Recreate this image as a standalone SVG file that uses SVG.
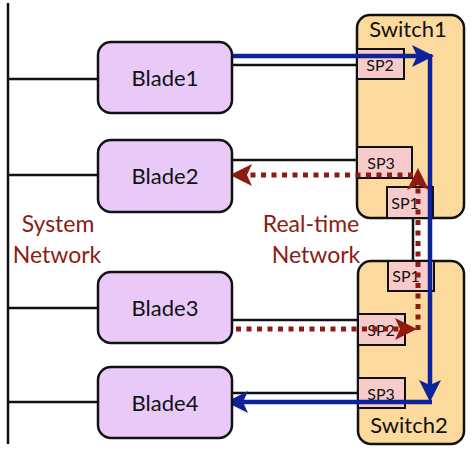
<svg xmlns="http://www.w3.org/2000/svg" width="474" height="450" viewBox="0 0 474 450">
<style>
.blade{fill:#E8C9F7;stroke:#111;stroke-width:2.5}
.switch{fill:#FCD99C;stroke:#111;stroke-width:2.5}
.port{fill:#F8CBCB;stroke:#111;stroke-width:2}
.wire{stroke:#111;stroke-width:2.5;fill:none}
.blue{stroke:#0D2399;stroke-width:4.5;fill:none}
.red{stroke:#8E1B12;stroke-width:5;fill:none;stroke-dasharray:5 5.5}
.t{font-family:Lato,"Liberation Sans",sans-serif;fill:#111;text-anchor:middle}
.big{font-size:22px}
.sp{font-size:16px}
.lbl{font-family:Lato,"Liberation Sans",sans-serif;font-size:23px;fill:#8E1B12;text-anchor:middle}
</style>
<defs>
<marker id="ab" markerUnits="userSpaceOnUse" markerWidth="24" markerHeight="24" refX="12" refY="11" orient="auto"><path d="M0,0 L22,11 L0,22 L5,11 z" fill="#0D2399"/></marker>
<marker id="ar" markerUnits="userSpaceOnUse" markerWidth="24" markerHeight="24" refX="12" refY="11" orient="auto"><path d="M0,0 L22,11 L0,22 L5,11 z" fill="#8E1B12"/></marker>
</defs>
<rect width="474" height="450" fill="#fff"/>
<g id="system-bus">
<line class="wire" x1="8" y1="3" x2="8" y2="444" stroke-width="3"/>
<line class="wire" x1="8" y1="79" x2="98" y2="79"/>
<line class="wire" x1="8" y1="175" x2="98" y2="175"/>
<line class="wire" x1="8" y1="308" x2="98" y2="308"/>
<line class="wire" x1="8" y1="402" x2="98" y2="402"/>
</g>
<g id="switch1">
<rect class="switch" x="357" y="15" width="107" height="203" rx="13"/>
<text class="t big" x="408" y="37">Switch1</text>
<rect class="port" x="357" y="49" width="47" height="30"/>
<text class="t sp" x="380" y="71">SP2</text>
<rect class="port" x="357" y="147" width="55" height="31"/>
<text class="t sp" x="381" y="169">SP3</text>
<rect class="port" x="387" y="187" width="46" height="31"/>
<text class="t sp" x="405" y="209">SP1</text>
</g>
<g id="switch2">
<rect class="switch" x="358" y="261" width="106" height="183" rx="13"/>
<text class="t big" x="409" y="433">Switch2</text>
<rect class="port" x="388" y="261" width="46" height="30"/>
<text class="t sp" x="406" y="282">SP1</text>
<rect class="port" x="358" y="314" width="47" height="31"/>
<text class="t sp" x="381" y="336">SP2</text>
<rect class="port" x="358" y="378" width="47" height="30"/>
<text class="t sp" x="381" y="400">SP3</text>
</g>
<g id="connectors">
<line class="wire" x1="232" y1="65" x2="357" y2="65"/>
<line class="wire" x1="232" y1="160" x2="357" y2="160"/>
<line class="wire" x1="232" y1="320" x2="358" y2="320"/>
<line class="wire" x1="232" y1="393" x2="358" y2="393"/>
<line class="wire" x1="413" y1="218" x2="413" y2="261"/>
<line class="blue" x1="232" y1="56" x2="424" y2="56" marker-end="url(#ab)"/>
<line class="blue" x1="430" y1="54" x2="430" y2="392" marker-end="url(#ab)"/>
<line class="blue" x1="432" y1="402" x2="236" y2="402" marker-end="url(#ab)"/>
<line class="red" x1="236" y1="329" x2="407" y2="329" marker-end="url(#ar)"/>
<line class="red" x1="418" y1="330" x2="418" y2="178" marker-end="url(#ar)"/>
<line class="red" x1="413" y1="175" x2="240" y2="175" marker-end="url(#ar)"/>
</g>
<g id="blade1">
<rect class="blade" x="98" y="42" width="134" height="71" rx="13"/>
<text class="t big" x="165" y="86">Blade1</text>
</g>
<g id="blade2">
<rect class="blade" x="98" y="140" width="134" height="72" rx="13"/>
<text class="t big" x="165" y="184">Blade2</text>
</g>
<g id="blade3">
<rect class="blade" x="98" y="272" width="134" height="71" rx="13"/>
<text class="t big" x="165" y="316">Blade3</text>
</g>
<g id="blade4">
<rect class="blade" x="98" y="367" width="134" height="71" rx="13"/>
<text class="t big" x="165" y="411">Blade4</text>
</g>
<g id="labels">
<text class="lbl" x="58" y="232">System</text>
<text class="lbl" x="57" y="263">Network</text>
<text class="lbl" x="311" y="232">Real-time</text>
<text class="lbl" x="316" y="263">Network</text>
</g>
</svg>
